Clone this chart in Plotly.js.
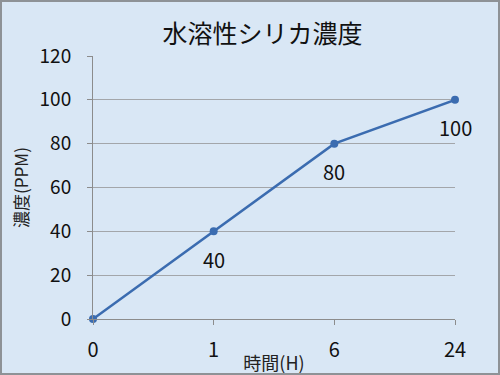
<!DOCTYPE html>
<html>
<head>
<meta charset="utf-8">
<script src="https://cdn.plot.ly/plotly-3.0.1.min.js"></script>
<style>
html,body{margin:0;padding:0;}
#wrap{position:relative;width:500px;height:375px;}
#chart{width:500px;height:375px;}
#frame{position:absolute;left:0;top:0;width:500px;height:375px;box-sizing:border-box;border:2px solid #8e9296;pointer-events:none;}
</style>
</head>
<body>
<div id="wrap"><div id="chart"></div><div id="frame"></div></div>
<script>
const hours = ['0', '1', '6', '24'];
const silica = [0, 40, 80, 100];
const pointLabels = ['', '40', '80', '100'];

const font = '"Noto Sans CJK JP", "Noto Sans", sans-serif';

const trace = {
  x: hours,
  y: silica,
  type: 'scatter',
  mode: 'lines+markers',
  line: {color: '#3b6cb0', width: 2.5},
  marker: {color: '#3b6cb0', size: 8},
  cliponaxis: false,
  hoverinfo: 'none'
};

// category index positions for annotations on the category axis
const annotations = hours.map((h, i) => ({
  x: i, y: silica[i], xref: 'x', yref: 'y',
  text: pointLabels[i], showarrow: false,
  yshift: -28,
  font: {family: font, size: 20, color: '#111'}
})).filter(a => a.text !== '');

const layout = {
  width: 500, height: 375,
  margin: {l: 93, r: 45, t: 56, b: 56},
  paper_bgcolor: '#d9e7f5',
  plot_bgcolor: 'rgba(0,0,0,0)',
  showlegend: false,
  annotations: annotations,
  title: {text: '水溶性シリカ濃度', font: {family: font, size: 25, color: '#111'}, x: 0.525, xanchor: 'center', y: 0.91, yanchor: 'middle'},
  xaxis: {
    type: 'category', range: [0, 3],
    showgrid: false, zeroline: false,
    showline: true, linecolor: '#8c8c8c', linewidth: 1,
    ticks: 'outside', ticklen: 5, tickcolor: '#8c8c8c',
    ticklabelstandoff: 8,
    tickfont: {family: font, size: 20, color: '#111'},
    title: {text: '時間(H)', font: {family: font, size: 18, color: '#222'}, standoff: 0}
  },
  yaxis: {
    range: [0, 120], dtick: 20,
    showgrid: true, gridcolor: '#a3a6aa', gridwidth: 1,
    zeroline: false,
    showline: true, linecolor: '#8c8c8c', linewidth: 1,
    ticks: 'outside', ticklen: 5, tickcolor: '#8c8c8c',
    ticklabelstandoff: 12,
    tickfont: {family: font, size: 19, color: '#111'},
    title: {text: '濃度(PPM)', font: {family: font, size: 17, color: '#222'}, standoff: 6}
  }
};

Plotly.newPlot('chart', [trace], layout, {staticPlot: true, displayModeBar: false});
</script>
</body>
</html>
